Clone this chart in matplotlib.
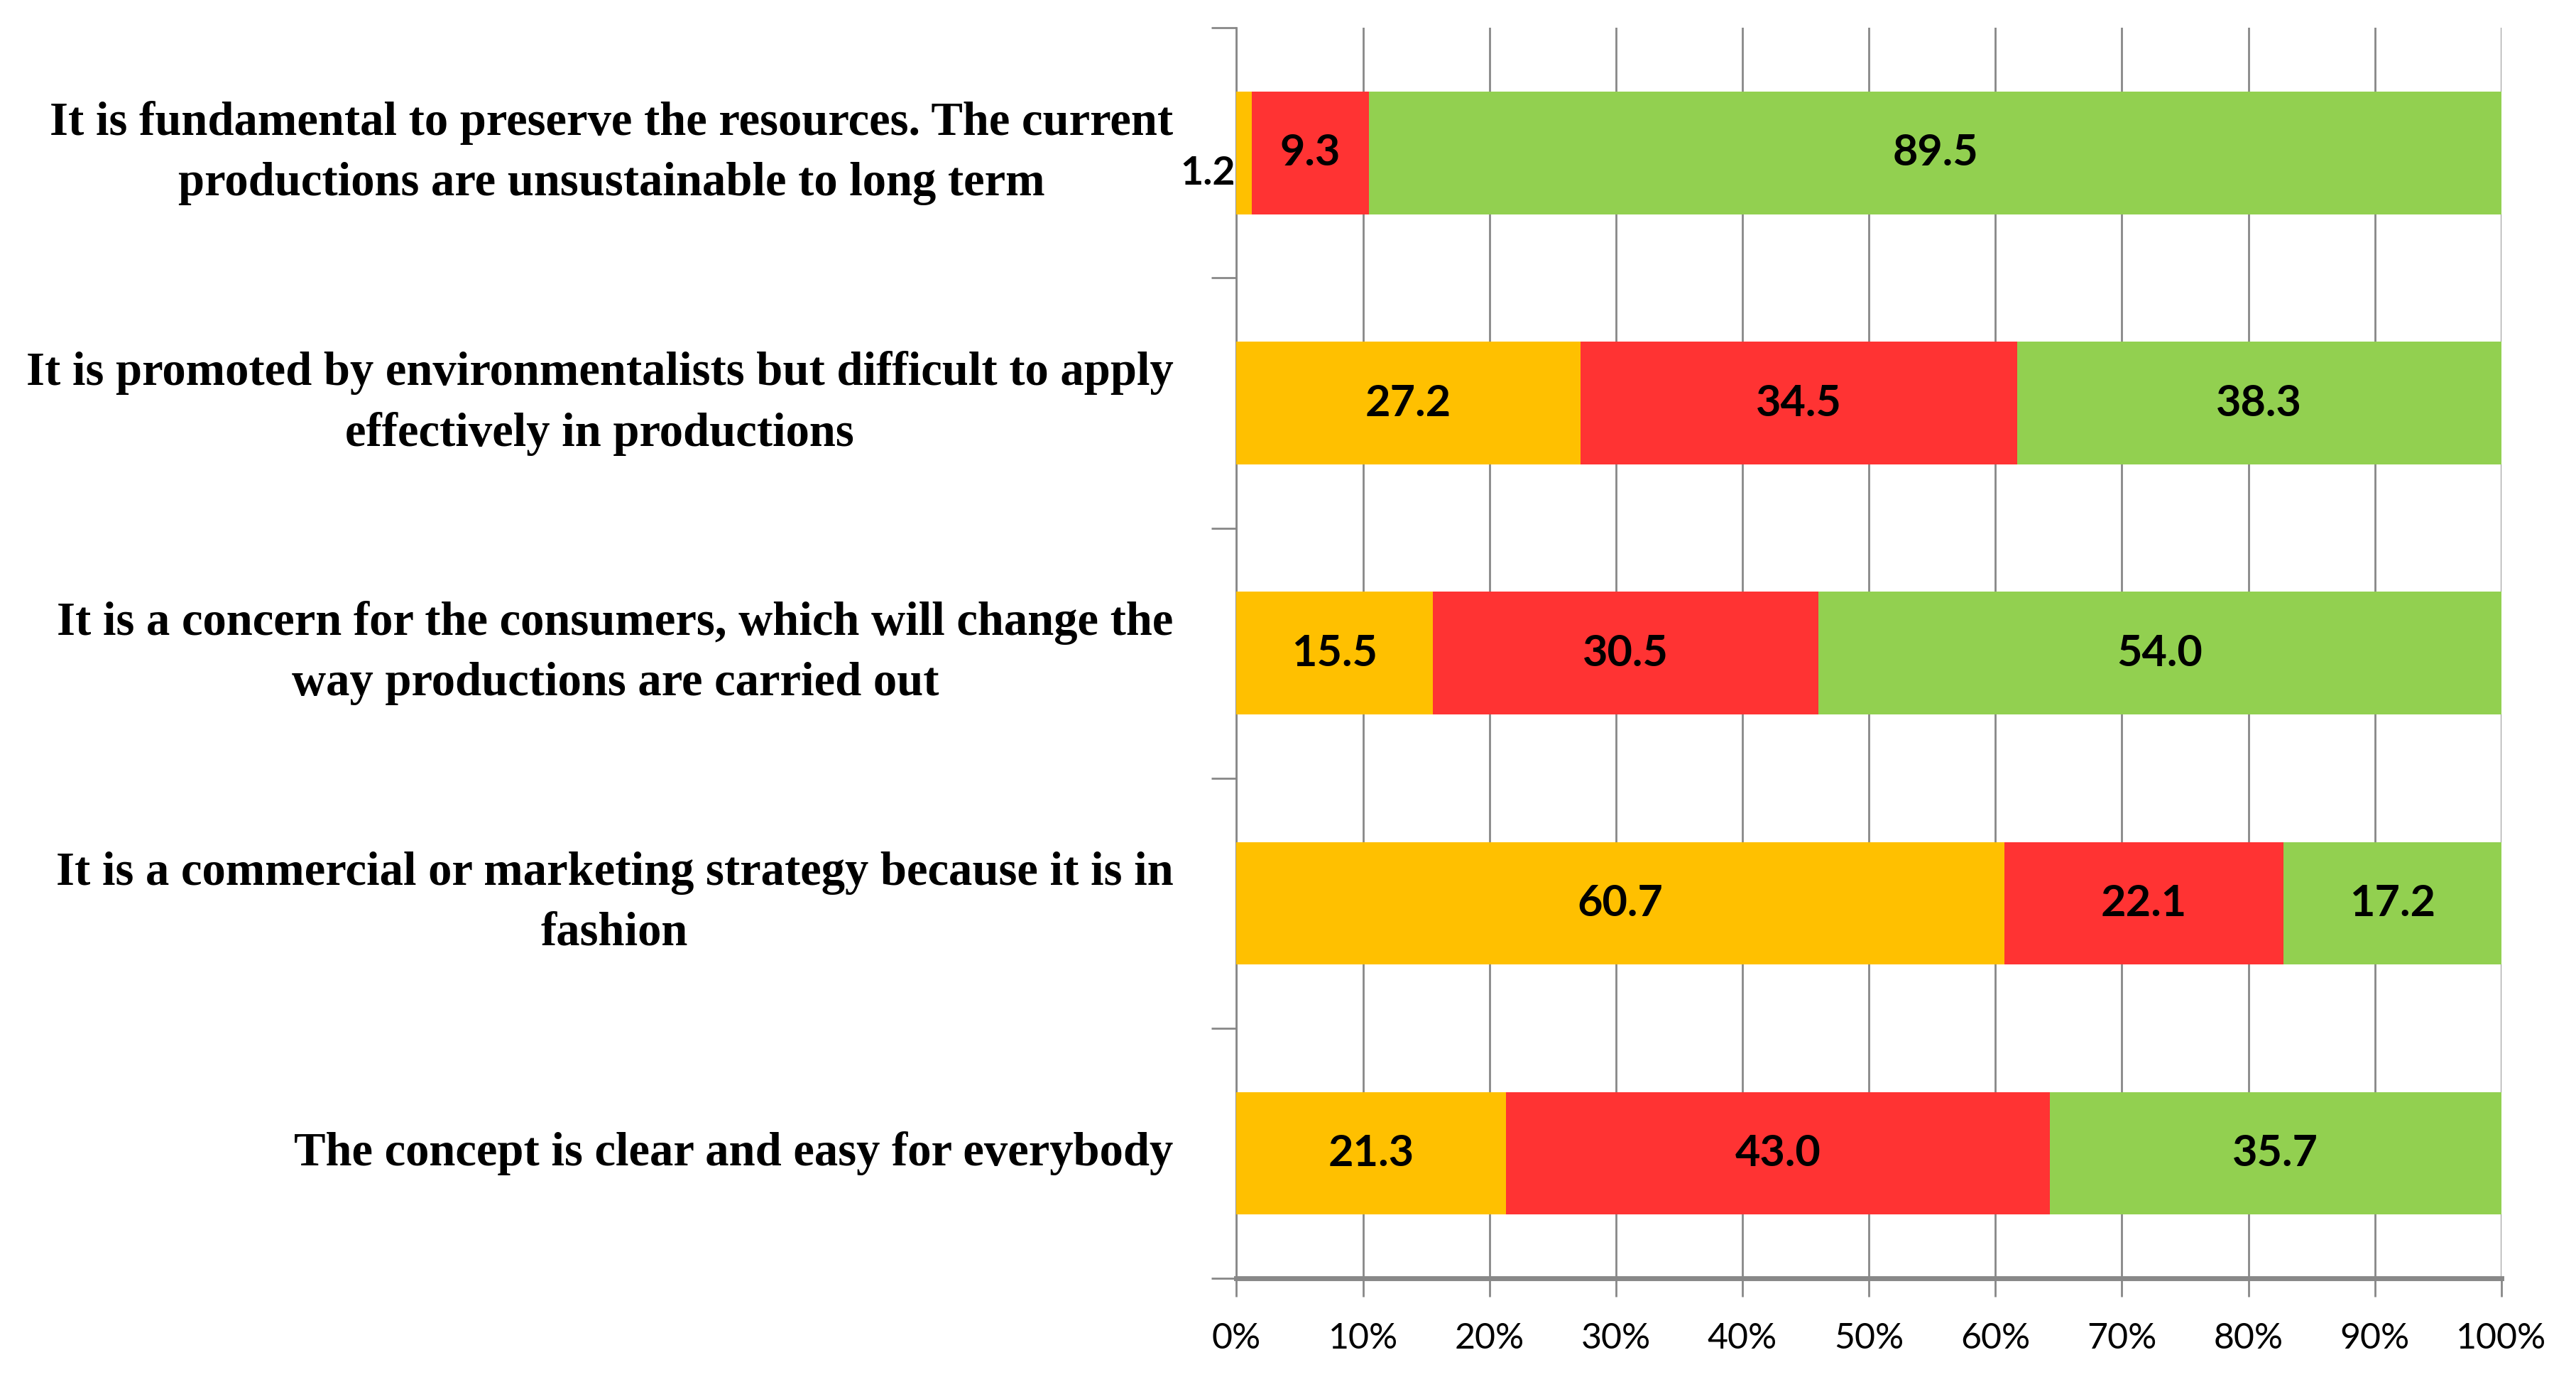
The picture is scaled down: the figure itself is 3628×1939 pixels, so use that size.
import numpy as np
import matplotlib.pyplot as plt
from matplotlib.ticker import FixedLocator

statements = [
    "It is fundamental to preserve the resources. The current\nproductions are unsustainable to long term",
    "It is promoted by environmentalists but difficult to apply\neffectively in productions",
    "It is a concern for the consumers, which will change the\nway productions are carried out",
    "It is a commercial or marketing strategy because it is in\nfashion",
    "The concept is clear and easy for everybody",
]
orange_vals = [1.2, 27.2, 15.5, 60.7, 21.3]
red_vals = [9.3, 34.5, 30.5, 22.1, 43.0]
green_vals = [89.5, 38.3, 54.0, 17.2, 35.7]
x_ticks = [0, 10, 20, 30, 40, 50, 60, 70, 80, 90, 100]
x_tick_labels = ["%d%%" % t for t in x_ticks]

colors = ["#FFC000", "#FF3333", "#92D050"]
sans = ["Lato", "DejaVu Sans"]

fig = plt.figure(figsize=(36.28, 19.39), dpi=100)
ax = fig.add_axes([0.480, 0.0717, 0.491, 0.908])

y = np.arange(len(statements))
left = np.zeros(len(statements))
h = 0.49
for vals, col in zip([orange_vals, red_vals, green_vals], colors):
    vals = np.array(vals)
    ax.barh(y, vals, left=left, height=h, color=col, zorder=3)
    for yi, l, v in zip(y, left, vals):
        if v < 5:
            # too narrow, put it left of the bar
            ax.text(l - 0.1, yi + 0.08, "%.1f" % v, ha="right", va="center",
                    fontsize=40, fontweight="bold", family=sans, zorder=4)
        else:
            ax.text(l + v / 2, yi, "%.1f" % v, ha="center", va="center",
                    fontsize=44, fontweight="bold", family=sans, zorder=4)
    left = left + vals

ax.set_xlim(0, 100)
ax.set_ylim(len(statements) - 0.5, -0.5)

ax.set_xticks(x_ticks)
ax.set_xticklabels(x_tick_labels, family=sans, fontsize=36)
ax.tick_params(axis="x", length=19, width=2, color="#888888", pad=26)
ax.grid(axis="x", color="#888888", linewidth=2, zorder=0)

ax.set_yticks(y)
ax.set_yticklabels(statements, family="Liberation Serif", fontweight="bold",
                   fontsize=48, multialignment="center", linespacing=1.5)
for lab in ax.get_yticklabels():
    lab.set_va("center")
ax.tick_params(axis="y", which="major", length=0, pad=64)
ax.yaxis.set_minor_locator(FixedLocator(np.arange(-0.5, len(statements), 1.0)))
ax.tick_params(axis="y", which="minor", length=25, width=2, color="#888888")

for s in ["top", "right"]:
    ax.spines[s].set_visible(False)
ax.spines["left"].set_color("#888888")
ax.spines["left"].set_linewidth(2)
ax.spines["bottom"].set_color("#888888")
ax.spines["bottom"].set_linewidth(5)
ax.spines["bottom"].set_zorder(5)

fig.savefig("out.png", dpi=100)
